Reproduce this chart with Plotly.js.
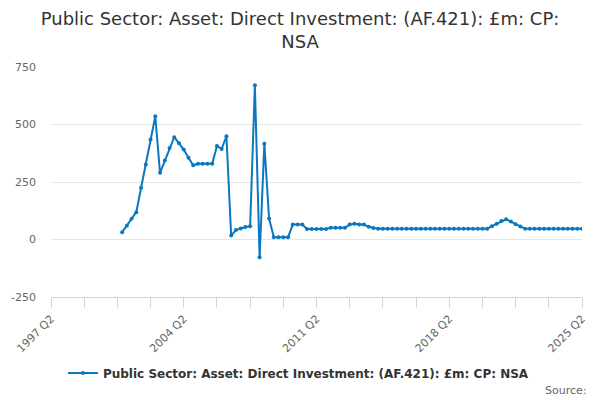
<!DOCTYPE html>
<html>
<head>
<meta charset="utf-8">
<script src="https://cdn.plot.ly/plotly-3.0.1.min.js"></script>
<style>html,body{margin:0;padding:0;background:#fff;}#chart{width:600px;height:400px;}</style>
</head>
<body>
<div id="chart"></div>
<script>
// Axis categories: every quarter from 1997 Q2 to 2025 Q2
const axisStartYear = 1997, axisStartQuarter = 2, axisEndYear = 2025, axisEndQuarter = 2;
const axisQuarters = [];
for (let y = axisStartYear, q = axisStartQuarter; y < axisEndYear || (y === axisEndYear && q <= axisEndQuarter); ) {
  axisQuarters.push(y + " Q" + q);
  q++; if (q > 4) { q = 1; y++; }
}
// Data starts 2001 Q1
const seriesName = "Public Sector: Asset: Direct Investment: (AF.421): £m: CP: NSA";
const values = [
  32, 60, 90, 119,            // 2001
  225, 326, 435, 536,         // 2002
  290, 343, 398, 445,         // 2003
  418, 391, 355, 323,         // 2004
  329, 329, 329, 329,         // 2005
  406, 394, 449, 17,          // 2006
  41, 48, 54, 58,             // 2007
  671, -77, 416, 91,          // 2008
  10, 10, 10, 10,             // 2009
  65, 65, 65, 46,             // 2010
  46, 46, 46, 46,             // 2011
  51, 51, 51, 51,             // 2012
  65, 68, 65, 65,             // 2013
  55, 50, 47, 47,             // 2014
  47, 47, 47, 47,             // 2015
  47, 47, 47, 47,             // 2016
  47, 47, 47, 47,             // 2017
  47, 47, 47, 47,             // 2018
  47, 47, 47, 47,             // 2019
  47, 47, 58, 68,             // 2020
  80, 88, 78, 66,             // 2021
  57, 47, 47, 47,             // 2022
  47, 47, 47, 47,             // 2023
  47, 47, 47, 47,             // 2024
  47, 47                      // 2025 Q1-Q2
];
const dataStartIndex = axisQuarters.indexOf("2001 Q1");
const dataQuarters = axisQuarters.slice(dataStartIndex, dataStartIndex + values.length);

const tickLabels = ["1997 Q2", "2004 Q2", "2011 Q2", "2018 Q2", "2025 Q2"];
const tickStep = 7; // minor tick every 7 quarters
const tickVals = axisQuarters.filter((_, i) => i % tickStep === 0);
const tickText = tickVals.map(v => tickLabels.includes(v) ? v : "");

const yTicks = [-250, 0, 250, 500, 750];
const yTickText = ["-250", "0", "250", "500", "750"];

const font = "DejaVu Sans, Verdana, sans-serif";
const blue = "#0a77c0";

Plotly.newPlot("chart", [{
  x: dataQuarters,
  y: values,
  name: seriesName,
  type: "scatter",
  mode: "lines+markers",
  line: {color: blue, width: 2},
  marker: {color: blue, size: 4},
  showlegend: true
}], {
  width: 600, height: 400,
  margin: {l: 51, r: 18, t: 67, b: 103},
  paper_bgcolor: "#fff", plot_bgcolor: "#fff",
  font: {family: font, color: "#666", size: 11},
  title: {
    text: "Public Sector: Asset: Direct Investment: (AF.421): £m: CP:<br>NSA",
    font: {family: font, size: 18, color: "#333"},
    x: 0.5, xanchor: "center", y: 0.9375, yanchor: "middle"
  },
  xaxis: {
    type: "category",
    categoryorder: "array",
    categoryarray: axisQuarters,
    range: [0, axisQuarters.length - 1],
    tickmode: "array",
    tickvals: tickVals,
    ticktext: tickText,
    tickangle: -45,
    ticks: "outside", ticklen: 10, tickcolor: "#ccd6eb", tickwidth: 1,
    showline: true, linecolor: "#ccd6eb", linewidth: 1,
    showgrid: false, zeroline: false,
    tickfont: {family: font, size: 11, color: "#666"}
  },
  yaxis: {
    range: [-250, 750],
    tickmode: "array",
    tickvals: yTicks,
    ticktext: yTickText,
    showgrid: true, gridcolor: "#e6e6e6", gridwidth: 1,
    zeroline: false, showline: false,
    ticks: "", ticklabelstandoff: 14,
    tickfont: {family: font, size: 11, color: "#666"}
  },
  legend: {
    orientation: "h", x: 0.466, xanchor: "center", y: -0.33, yanchor: "middle",
    font: {family: font, size: 12, color: "#333", weight: "bold"}
  },
  annotations: [{
    text: "Source:", xref: "paper", yref: "paper", x: 1.013, y: -0.405,
    xanchor: "right", yanchor: "middle", showarrow: false,
    font: {family: font, size: 11, color: "#666"}
  }]
}, {displayModeBar: false, staticPlot: true});
</script>
</body>
</html>
